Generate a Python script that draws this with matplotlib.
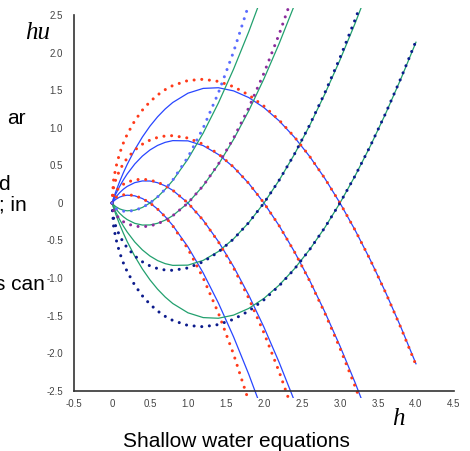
import matplotlib
matplotlib.use('Agg')
import matplotlib.pyplot as plt

# depth values h where each curve was sampled
h_vals = [0, 0.02, 0.05, 0.1, 0.15, 0.2, 0.3, 0.4, 0.5, 0.6, 0.7, 0.8,
          1.0, 1.2, 1.4, 1.6, 1.8, 2.0, 2.2, 2.4, 2.6, 2.8, 3.0, 3.2,
          3.4, 3.6, 3.8, 4.0]

# integral curves of the 1-family through (3,0), (2,0), (1,0), (0.5,0)
int1_a = [0, 0.0636, 0.1508, 0.2832, 0.4034, 0.5139, 0.7106, 0.8797, 1.0249,
          1.1489, 1.2535, 1.3402, 1.4641, 1.5278, 1.5367, 1.4948, 1.4055,
          1.2714, 1.0948, 0.8777, 0.6219, 0.3289, 0, -0.3635, -0.7606,
          -1.1903, -1.6516, -2.1436]
int1_b = [0, 0.0509, 0.1191, 0.2196, 0.3081, 0.3868, 0.5199, 0.6254, 0.7071,
          0.7675, 0.8086, 0.8316, 0.8284, 0.7650, 0.6468, 0.4778, 0.2613,
          0, -0.3037, -0.6479, -1.0308, -1.4510, -1.9070, -2.3977, -2.9220]
int1_c = [0, 0.0343, 0.0776, 0.1368, 0.1838, 0.2211, 0.2714, 0.2940, 0.2929,
          0.2705, 0.2287, 0.1689, 0, -0.2291, -0.5130, -0.8477, -1.2299,
          -1.6568, -2.1263, -2.6361, -3.1847]
int1_d = [0, 0.0226, 0.0484, 0.0782, 0.0959, 0.1040, 0.0956, 0.0597, 0,
          -0.0810, -0.1814, -0.2997, -0.5858, -0.9320, -1.3331, -1.7850,
          -2.2843, -2.8284]

# integral curves of the 2-family through the same states
int2_a = [0, -0.0636, -0.1508, -0.2832, -0.4034, -0.5139, -0.7106, -0.8797,
          -1.0249, -1.1489, -1.2535, -1.3402, -1.4641, -1.5278, -1.5367,
          -1.4948, -1.4055, -1.2714, -1.0948, -0.8777, -0.6219, -0.3289, 0,
          0.3635, 0.7606, 1.1903, 1.6516, 2.1436]
int2_b = [0, -0.0509, -0.1191, -0.2196, -0.3081, -0.3868, -0.5199, -0.6254,
          -0.7071, -0.7675, -0.8086, -0.8316, -0.8284, -0.7650, -0.6468,
          -0.4778, -0.2613, 0, 0.3037, 0.6479, 1.0308, 1.4510, 1.9070,
          2.3977, 2.9220]
int2_c = [0, -0.0343, -0.0776, -0.1368, -0.1838, -0.2211, -0.2714, -0.2940,
          -0.2929, -0.2705, -0.2287, -0.1689, 0, 0.2291, 0.5130, 0.8477,
          1.2299, 1.6568, 2.1263, 2.6361, 3.1847]
int2_d = [0, -0.0226, -0.0484, -0.0782, -0.0959, -0.1040, -0.0956, -0.0597,
          0, 0.0810, 0.1814, 0.2997, 0.5858, 0.9320, 1.3331, 1.7850, 2.2843,
          2.8284]

# Hugoniot loci, 1-family
hug1_a = [0, 0.2990, 0.4703, 0.6592, 0.7998, 0.9145, 1.0967, 1.2379, 1.3502,
          1.4400, 1.5111, 1.5660, 1.6330, 1.6497, 1.6212, 1.5506, 1.4400,
          1.2910, 1.1047, 0.8818, 0.6231, 0.3290, 0, -0.3637, -0.7618,
          -1.1940, -1.6602, -2.1602]
hug1_b = [0, 0.1990, 0.3122, 0.4353, 0.5253, 0.5970, 0.7061, 0.7838, 0.8385,
          0.8743, 0.8936, 0.8980, 0.8660, 0.7838, 0.6545, 0.4800, 0.2615,
          0, -0.3040, -0.6499, -1.0375, -1.4664, -1.9365, -2.4475, -2.9994]
hug1_c = [0, 0.0990, 0.1539, 0.2111, 0.2496, 0.2771, 0.3091, 0.3175, 0.3062,
          0.2771, 0.2314, 0.1697, 0, -0.2298, -0.5185, -0.8653, -1.2700,
          -1.7321, -2.2514, -2.8279]
hug1_d = [0, 0.0490, 0.0746, 0.0980, 0.1093, 0.1122, 0.0980, 0.0600, 0,
          -0.0812, -0.1833, -0.3059, -0.6124, -0.9998, -1.4679, -2.0163,
          -2.6451]

# Hugoniot loci, 2-family
hug2_a = [0, -0.2990, -0.4703, -0.6592, -0.7998, -0.9145, -1.0967, -1.2379,
          -1.3502, -1.4400, -1.5111, -1.5660, -1.6330, -1.6497, -1.6212,
          -1.5506, -1.4400, -1.2910, -1.1047, -0.8818, -0.6231, -0.3290, 0,
          0.3637, 0.7618, 1.1940, 1.6602, 2.1602]
hug2_b = [0, -0.1990, -0.3122, -0.4353, -0.5253, -0.5970, -0.7061, -0.7838,
          -0.8385, -0.8743, -0.8936, -0.8980, -0.8660, -0.7838, -0.6545,
          -0.4800, -0.2615, 0, 0.3040, 0.6499, 1.0375, 1.4664, 1.9365,
          2.4475, 2.9994]
hug2_c = [0, -0.0990, -0.1539, -0.2111, -0.2496, -0.2771, -0.3091, -0.3175,
          -0.3062, -0.2771, -0.2314, -0.1697, 0, 0.2298, 0.5185, 0.8653,
          1.2700, 1.7321, 2.2514, 2.8279]
hug2_d = [0, -0.0490, -0.0746, -0.0980, -0.1093, -0.1122, -0.0980, -0.0600,
          0, 0.0812, 0.1833, 0.3059, 0.6124, 0.9998, 1.4679, 2.0163, 2.6451]

x_ticks = [-0.5, 0, 0.5, 1.0, 1.5, 2.0, 2.5, 3.0, 3.5, 4.0, 4.5]
x_labels = ['-0.5', '0', '0.5', '1.0', '1.5', '2.0', '2.5', '3.0', '3.5', '4.0', '4.5']
y_ticks = [-2.5, -2.0, -1.5, -1.0, -0.5, 0, 0.5, 1.0, 1.5, 2.0, 2.5]
y_labels = ['-2.5', '-2.0', '-1.5', '-1.0', '-0.5', '0', '0.5', '1.0', '1.5', '2.0', '2.5']

blue = '#2846ff'
green = '#22a06e'
dotted = [(hug1_a, '#ff3a1a'), (hug1_b, '#ff3a1a'), (hug1_c, '#ff3a1a'), (hug1_d, '#ff3a1a'),
          (hug2_a, '#0c1b8c'), (hug2_b, '#0c1b8c'), (hug2_c, '#8c2c9c'), (hug2_d, '#5b6cff')]

plt.rcParams['font.family'] = ['Liberation Sans', 'DejaVu Sans']

fig = plt.figure(figsize=(4.70, 4.51), dpi=100)
ax = fig.add_axes([0.1574, 0.1175, 0.8085, 0.8648])

for hu in [int1_a, int1_b, int1_c, int1_d]:
    ax.plot(h_vals[:len(hu)], hu, color=blue, lw=0.9)
for hu in [int2_a, int2_b, int2_c, int2_d]:
    ax.plot(h_vals[:len(hu)], hu, color=green, lw=0.9)
for hu, col in dotted:
    ax.plot(h_vals[:len(hu)], hu, color=col, lw=2.2, ls=(0, (0.01, 2.5)),
            dash_capstyle='round')

ax.set_xlim(-0.5, 4.5)
ax.set_ylim(-2.6, 2.6)
ax.spines['top'].set_visible(False)
ax.spines['right'].set_visible(False)
ax.spines['bottom'].set_position(('data', -2.5))
ax.spines['left'].set_bounds(-2.5, 2.5)
for s in ['left', 'bottom']:
    ax.spines[s].set_color('#333333')
    ax.spines[s].set_linewidth(1.2)

ax.set_xticks(x_ticks)
ax.set_xticklabels(x_labels)
ax.set_yticks(y_ticks)
ax.set_yticklabels(y_labels)
ax.tick_params(axis='x', length=0, pad=6, labelsize=7, labelcolor='#444444')
ax.tick_params(axis='y', length=0, pad=8, labelsize=7, labelcolor='#444444')

# axis names
fig.text(38 / 470, 1 - 39 / 451, 'hu', ha='center', va='baseline',
         family='Liberation Serif', style='italic', fontsize=18)
fig.text(398 / 470, 1 - 425 / 451, 'h', ha='center', va='baseline',
         family='Liberation Serif', style='italic', fontsize=18)

fig.text(236 / 470, 1 - 447 / 451, 'Shallow water equations', ha='center',
         va='baseline', fontsize=15)

# slide text showing at the left edge
for txt, xr, yb in [('ar', 26, 124), ('d', 10, 190), ('; in', 27, 211), ('s can', 45, 290)]:
    fig.text(xr / 470, 1 - yb / 451, txt, ha='right', va='baseline', fontsize=15)

fig.savefig('out.png', dpi=100)
